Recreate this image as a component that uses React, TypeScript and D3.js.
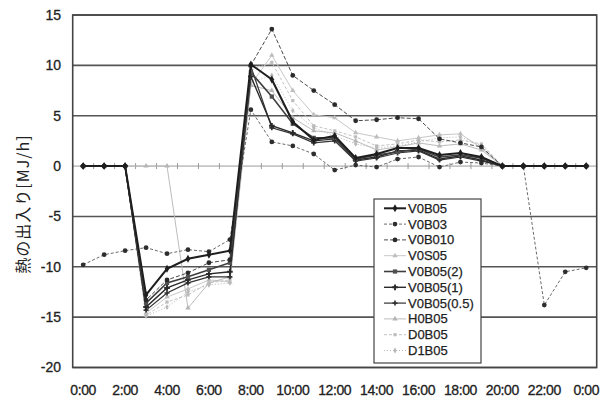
import React from "react";
import * as d3 from "d3";

const hourLabels: string[] = [
  "0:00", "1:00", "2:00", "3:00", "4:00", "5:00", "6:00", "7:00", "8:00", "9:00",
  "10:00", "11:00", "12:00", "13:00", "14:00", "15:00", "16:00", "17:00", "18:00",
  "19:00", "20:00", "21:00", "22:00", "23:00", "0:00",
];
const yTicks: number[] = [15, 10, 5, 0, -5, -10, -15, -20];

const seriesNames: string[] = [
  "V0B05", "V0B03", "V0B010", "V0S05", "V0B05(2)", "V0B05(1)", "V0B05(0.5)", "H0B05", "D0B05", "D1B05",
];

const V0B05: number[] = [0, 0, 0, -12.8, -10.2, -9.2, -8.8, -8.4, 10.1, 8.6, 4.4, 2.6, 3.0, 0.8, 1.2, 1.8, 1.8, 1.1, 1.3, 0.9, 0, 0, 0, 0, 0];
const V0B03: number[] = [-9.8, -8.8, -8.4, -8.1, -8.7, -8.3, -8.5, -7.3, 5.6, 2.4, 2.0, 1.2, -0.4, 0.1, -0.1, 0.7, 0.9, -0.1, 0.4, 0.3, 0, 0, -13.8, -10.5, -10.1];
const V0B010: number[] = [0, 0, 0, -13.3, -11.3, -10.6, -9.6, -9.3, 10.0, 13.6, 9.0, 7.5, 6.1, 4.5, 4.6, 4.8, 4.7, 2.7, 2.3, 1.9, 0, 0, 0, 0, 0];
const V0S05: number[] = [0, 0, 0, -14.6, -13.0, -12.2, -11.3, -11.5, 8.1, 11.0, 7.5, 5.1, 4.8, 3.3, 2.9, 2.5, 2.8, 3.1, 3.2, 1.8, 0, 0, 0, 0, 0];
const V0B05_2: number[] = [0, 0, 0, -13.6, -11.6, -11.0, -10.3, -9.6, 9.3, 6.9, 4.2, 2.8, 2.8, 0.7, 1.1, 1.4, 1.7, 0.9, 1.1, 0.8, 0, 0, 0, 0, 0];
const V0B05_1: number[] = [0, 0, 0, -14.0, -12.1, -11.3, -10.7, -10.5, 8.9, 4.0, 3.3, 2.5, 2.7, 0.6, 0.9, 1.5, 1.6, 0.7, 1.0, 0.6, 0, 0, 0, 0, 0];
const V0B05_05: number[] = [0, 0, 0, -14.3, -12.6, -11.6, -11.0, -11.0, 9.9, 3.8, 3.2, 2.3, 2.5, 0.5, 0.8, 1.3, 1.5, 0.6, 0.9, 0.5, 0, 0, 0, 0, 0];
const H0B05: number[] = [0, 0, 0, 0, 0, -14.1, -11.6, -11.0, 8.0, 7.5, 4.8, 3.5, 3.3, 2.5, 1.6, 1.9, 2.3, 2.0, 2.2, 1.6, 0, 0, 0, 0, 0];
const D0B05: number[] = [0, 0, 0, -14.8, -13.5, -12.8, -11.6, -11.3, 9.5, 10.3, 6.5, 4.0, 3.5, 2.9, 2.0, 2.2, 2.6, 2.4, 2.6, 2.2, 0, 0, 0, 0, 0];
const D1B05: number[] = [0, 0, 0, -14.9, -14.0, -12.5, -11.8, -11.6, 8.3, 9.0, 5.5, 3.8, 3.0, 2.2, 1.8, 2.0, 2.4, 2.8, 2.9, 2.0, 0, 0, 0, 0, 0];

const seriesValues: number[][] = [V0B05, V0B03, V0B010, V0S05, V0B05_2, V0B05_1, V0B05_05, H0B05, D0B05, D1B05];

type Style = { stroke: string; width: number; dash?: string; marker: d3.SymbolType; mfill: string; msize: number };
const styles: Style[] = [
  { stroke: "#1e1e1e", width: 2, marker: d3.symbolDiamond, mfill: "#1e1e1e", msize: 18 },
  { stroke: "#6a6a6a", width: 1, dash: "3,2", marker: d3.symbolCircle, mfill: "#2e2e2e", msize: 18 },
  { stroke: "#4a4a4a", width: 1, dash: "4,2", marker: d3.symbolCircle, mfill: "#2a2a2a", msize: 18 },
  { stroke: "#c8c8c8", width: 1, marker: d3.symbolTriangle, mfill: "#bdbdbd", msize: 12 },
  { stroke: "#3e3e3e", width: 1.6, marker: d3.symbolSquare, mfill: "#505050", msize: 18 },
  { stroke: "#2a2a2a", width: 1.4, marker: d3.symbolCross, mfill: "#2a2a2a", msize: 18 },
  { stroke: "#333333", width: 1.2, marker: d3.symbolCross, mfill: "#333333", msize: 14 },
  { stroke: "#bcbcbc", width: 1, marker: d3.symbolTriangle, mfill: "#b5b5b5", msize: 12 },
  { stroke: "#c2c2c2", width: 1, dash: "3,2", marker: d3.symbolSquare, mfill: "#bdbdbd", msize: 10 },
  { stroke: "#b8b8b8", width: 1, dash: "1,2", marker: d3.symbolDiamond, mfill: "#b8b8b8", msize: 10 },
];

const W = 610;
const H = 404;
const plotL = 72.7;
const plotR = 596.7;
const plotT = 15;
const plotB = 367.5;

export default function App() {
  const idx = hourLabels.map((_, i) => i);
  const x = d3.scalePoint<number>().domain(idx).range([plotL, plotR]).padding(0.5);
  const y = d3.scaleLinear().domain([-20, 15]).range([plotB, plotT]);
  const step = x.step();
  const line = d3
    .line<number>()
    .x((_, i) => x(i) as number)
    .y((v) => y(v));
  const font = "'Liberation Sans', Arial, sans-serif";
  const legX = 374;
  const legY = 199;
  const legW = 107;
  const legH = 164;
  const rowH = 15.8;
  const txt = "#222";

  return (
    <svg width={W} height={H} style={{ position: "absolute", left: 0, top: 0, background: "#fff" }}>
      <rect x={0} y={0} width={W} height={H} fill="#fff" />
      {yTicks.filter((t) => t !== 0).map((t) => (
        <line key={t} x1={plotL} x2={plotR} y1={y(t)} y2={y(t)} stroke="#555" strokeWidth={1.6} />
      ))}
      <line x1={plotL} x2={plotR} y1={y(0)} y2={y(0)} stroke="#9a9a9a" strokeWidth={1} />
      {d3.range(hourLabels.length + 1).map((k) => (
        <line key={k} x1={plotL + k * step} x2={plotL + k * step} y1={y(0) - 3} y2={y(0) + 3} stroke="#9a9a9a" strokeWidth={1} />
      ))}
      <rect x={plotL} y={plotT} width={plotR - plotL} height={plotB - plotT} fill="none" stroke="#444" strokeWidth={1.6} />
      {yTicks.map((t) => (
        <text key={t} x={61} y={y(t)} dy="0.35em" textAnchor="end" fontFamily={font} fontSize={14} fill={txt} stroke={txt} strokeWidth={0.3}>
          {t}
        </text>
      ))}
      {hourLabels.map((l, i) =>
        i % 2 === 0 ? (
          <text key={i} x={x(i) as number} y={390} dy="0.35em" textAnchor="middle" fontFamily={font} fontSize={14} fill={txt} stroke={txt} strokeWidth={0.3} letterSpacing={-0.4}>
            {l}
          </text>
        ) : null
      )}
      <text
        transform={`translate(23,${204}) rotate(-90)`}
        textAnchor="middle"
        dy="0.35em"
        fontFamily="'Noto Sans CJK JP', 'Liberation Sans', sans-serif"
        fontSize={16}
        letterSpacing={1}
        fill={txt}
      >
        熱の出入り[MJ/h]
      </text>
      {[3, 7, 8, 9, 1, 6, 5, 4, 2, 0].map((si) => {
        const s = styles[si];
        const vals = seriesValues[si];
        return (
          <g key={si}>
            <path d={line(vals) || ""} fill="none" stroke={s.stroke} strokeWidth={s.width} strokeDasharray={s.dash} />
            {vals.map((v, i) => (
              <path
                key={i}
                d={d3.symbol().type(s.marker).size(s.msize)() || ""}
                transform={`translate(${x(i)},${y(v)})`}
                fill={s.mfill}
              />
            ))}
          </g>
        );
      })}
      <rect x={legX} y={legY} width={legW} height={legH} fill="#fff" stroke="#444" strokeWidth={1.2} />
      {seriesNames.map((n, i) => {
        const s = styles[i];
        const cy = legY + 9.3 + i * rowH;
        return (
          <g key={n}>
            <line x1={384} x2={406} y1={cy} y2={cy} stroke={s.stroke} strokeWidth={s.width} strokeDasharray={s.dash} />
            <path d={d3.symbol().type(s.marker).size(s.msize)() || ""} transform={`translate(395,${cy})`} fill={s.mfill} />
            <text x={408} y={cy} dy="0.35em" fontFamily={font} fontSize={13} fill={txt} stroke={txt} strokeWidth={0.25}>
              {n}
            </text>
          </g>
        );
      })}
    </svg>
  );
}
